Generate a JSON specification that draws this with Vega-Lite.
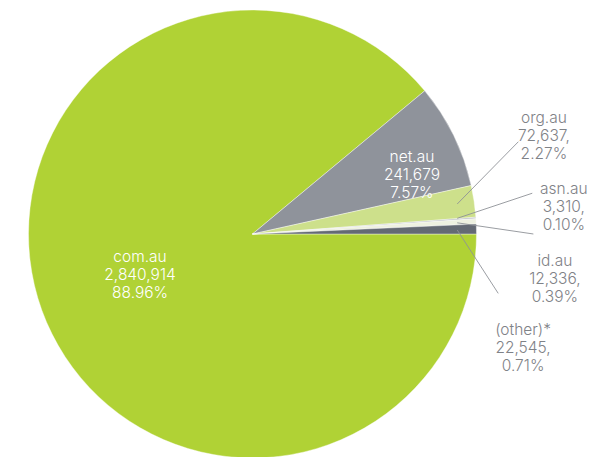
{
  "$schema": "https://vega.github.io/schema/vega-lite/v6.json",
  "width": 591,
  "height": 457,
  "padding": 0,
  "autosize": {"type": "none"},
  "background": "white",
  "config": {"view": {"stroke": null}},
  "datasets": {
    "slices": [
      {"domain": "com.au", "count": 2840914, "rank": 1},
      {"domain": "net.au", "count": 241679, "rank": 2},
      {"domain": "org.au", "count": 72637, "rank": 3},
      {"domain": "asn.au", "count": 3310, "rank": 4},
      {"domain": "id.au", "count": 12336, "rank": 5},
      {"domain": "(other)*", "count": 22545, "rank": 6}
    ],
    "labels": [
      {"domain": "com.au", "label": "com.au\n2,840,914\n88.96%", "placement": "inside", "lx": -0.502, "ly": -0.103},
      {"domain": "net.au", "label": "net.au\n241,679\n7.57%", "placement": "inside", "lx": 0.712, "ly": 0.344},
      {"domain": "org.au", "label": "org.au\n72,637,\n2.27%", "placement": "outside", "lx": 1.301, "ly": 0.518},
      {"domain": "asn.au", "label": "asn.au\n3,310,\n0.10%", "placement": "outside", "lx": 1.39, "ly": 0.201},
      {"domain": "id.au", "label": "id.au\n12,336,\n0.39%", "placement": "outside", "lx": 1.35, "ly": -0.121},
      {"domain": "(other)*", "label": "(other)*\n22,545,\n0.71%", "placement": "outside", "lx": 1.208, "ly": -0.429}
    ],
    "leaders": [
      {"domain": "org.au", "x1": 1.187, "y1": 0.412, "x2": 0.914, "y2": 0.134},
      {"domain": "asn.au", "x1": 1.249, "y1": 0.182, "x2": 0.914, "y2": 0.07},
      {"domain": "id.au", "x1": 1.254, "y1": 0.0, "x2": 0.914, "y2": 0.05},
      {"domain": "(other)*", "x1": 1.097, "y1": -0.265, "x2": 0.914, "y2": 0.018}
    ]
  },
  "layer": [
    {
      "data": {"name": "slices"},
      "mark": {"type": "arc", "radius": 224, "stroke": "white", "strokeWidth": 0.4},
      "encoding": {
        "x": {"datum": 0, "type": "quantitative", "scale": {"domain": [-1.1272, 1.5112], "nice": false, "zero": false}, "axis": null},
        "y": {"datum": 0, "type": "quantitative", "scale": {"domain": [-0.9955, 1.0446], "nice": false, "zero": false}, "axis": null},
        "theta": {"field": "count", "type": "quantitative", "stack": true, "scale": {"range": [1.5708, 7.854]}},
        "order": {"field": "rank", "type": "quantitative"},
        "color": {
          "field": "domain", "type": "nominal", "legend": null,
          "scale": {
            "domain": ["com.au", "net.au", "org.au", "asn.au", "id.au", "(other)*"],
            "range": ["#b0d235", "#8f939b", "#cde08b", "#babdc3", "#eef1e1", "#646a74"]
          }
        }
      }
    },
    {
      "data": {"name": "leaders"},
      "mark": {"type": "rule", "color": "#8f9297", "strokeWidth": 0.9},
      "encoding": {
        "x": {"field": "x1", "type": "quantitative", "scale": {"domain": [-1.1272, 1.5112], "nice": false, "zero": false}, "axis": null},
        "y": {"field": "y1", "type": "quantitative", "scale": {"domain": [-0.9955, 1.0446], "nice": false, "zero": false}, "axis": null},
        "x2": {"field": "x2"},
        "y2": {"field": "y2"}
      }
    },
    {
      "data": {"name": "labels"},
      "mark": {"type": "text", "font": "Inter", "fontWeight": 300, "fontSize": 15.5, "lineHeight": 18, "lineBreak": "\n", "align": "center", "baseline": "middle"},
      "encoding": {
        "x": {"field": "lx", "type": "quantitative", "scale": {"domain": [-1.1272, 1.5112], "nice": false, "zero": false}, "axis": null},
        "y": {"field": "ly", "type": "quantitative", "scale": {"domain": [-0.9955, 1.0446], "nice": false, "zero": false}, "axis": null},
        "text": {"field": "label", "type": "nominal"},
        "color": {
          "field": "placement", "type": "nominal", "legend": null,
          "scale": {"domain": ["inside", "outside"], "range": ["#ffffff", "#7f8287"]}
        }
      }
    }
  ],
  "resolve": {"scale": {"color": "independent"}}
}
